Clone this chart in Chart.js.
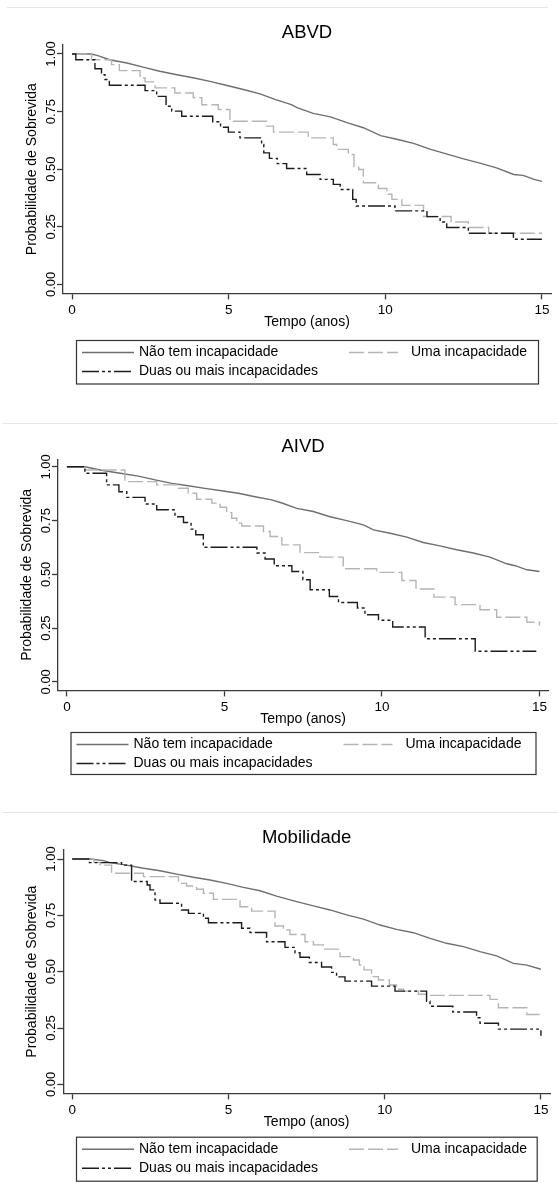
<!DOCTYPE html>
<html>
<head>
<meta charset="utf-8">
<script src="https://cdn.jsdelivr.net/npm/chart.js@4/dist/chart.umd.min.js"></script>
<style>
html, body { margin: 0; padding: 0; background: #fff; }
body { width: 558px; height: 1194px; position: relative; overflow: hidden; }
.panel { position: absolute; left: 0; width: 558px; }
.panel canvas { display: block; }
.sep { position: absolute; height: 1px; background: #e3e7e7; }
</style>
</head>
<body>
<div class="sep" style="top:7px;left:7px;width:541px"></div>
<div class="sep" style="top:423px;left:3px;width:555px"></div>
<div class="sep" style="top:812px;left:3px;width:555px"></div>
<div class="panel" style="top:0;height:400px"><canvas id="abvd" width="558" height="400"></canvas></div>
<div class="panel" style="top:400px;height:390px"><canvas id="aivd" width="558" height="390"></canvas></div>
<div class="panel" style="top:790px;height:404px"><canvas id="mob" width="558" height="404"></canvas></div>
<script>
// groups and axis ticks
const groupLabels = ['Não tem incapacidade', 'Uma incapacidade', 'Duas ou mais incapacidades'];
const xTicks = [0, 5, 10, 15];
const yTicks = [0, 0.25, 0.5, 0.75, 1];
const yTickLabels = ['0.00', '0.25', '0.50', '0.75', '1.00'];

// ABVD - survival estimates (time in years)
const abvdNaoT = [0, 0.6, 0.8, 1.2, 1.75, 2.3, 2.8, 3.35, 3.9, 4.4, 4.95, 5.5, 6.0, 6.5, 7.0, 7.2, 7.7, 8.25, 8.8, 9.3, 9.85, 10.4, 10.9, 11.45, 12.0, 12.5, 13.05, 13.55, 14.1, 14.4, 14.75, 15];
const abvdNaoS = [1, 1, 0.994, 0.975, 0.961, 0.942, 0.925, 0.91, 0.896, 0.881, 0.863, 0.845, 0.827, 0.802, 0.78, 0.766, 0.742, 0.727, 0.701, 0.68, 0.646, 0.629, 0.612, 0.586, 0.564, 0.545, 0.525, 0.506, 0.477, 0.473, 0.456, 0.447];
const abvdUmaT = [0, 0.62, 1.26, 1.51, 2.17, 2.33, 2.65, 3.28, 3.87, 4.14, 4.67, 5.04, 6.21, 6.43, 7.54, 8.34, 8.45, 8.82, 9.0, 9.15, 9.3, 9.78, 10.05, 10.21, 10.53, 11.22, 12.1, 12.65, 13.3, 15];
const abvdUmaS = [1, 0.975, 0.954, 0.928, 0.896, 0.879, 0.853, 0.831, 0.81, 0.78, 0.759, 0.708, 0.687, 0.661, 0.636, 0.607, 0.586, 0.564, 0.513, 0.499, 0.441, 0.416, 0.391, 0.369, 0.343, 0.295, 0.271, 0.247, 0.222, 0.222];
const abvdDuasT = [0, 0.12, 0.73, 0.94, 1.05, 1.19, 2.33, 2.7, 3.0, 3.18, 3.5, 4.49, 4.74, 4.99, 5.36, 6.05, 6.12, 6.3, 6.55, 6.85, 7.49, 7.92, 8.34, 8.56, 8.96, 9.07, 10.31, 11.33, 11.75, 11.96, 12.65, 14.09, 15];
const abvdDuasS = [1, 0.975, 0.936, 0.91, 0.889, 0.864, 0.841, 0.816, 0.773, 0.752, 0.73, 0.706, 0.682, 0.661, 0.636, 0.607, 0.571, 0.547, 0.524, 0.503, 0.477, 0.456, 0.434, 0.412, 0.369, 0.34, 0.319, 0.294, 0.271, 0.247, 0.222, 0.196, 0.196];

// AIVD
const aivdNaoT = [0, 0.57, 1.1, 1.74, 2.27, 2.8, 3.33, 3.85, 4.38, 4.91, 5.44, 5.97, 6.5, 6.8, 7.3, 7.82, 8.35, 8.88, 9.41, 9.73, 10.26, 10.79, 11.31, 11.84, 12.37, 12.9, 13.43, 13.96, 14.23, 14.6, 15];
const aivdNaoS = [1, 1, 0.984, 0.969, 0.957, 0.939, 0.923, 0.912, 0.9, 0.889, 0.877, 0.861, 0.846, 0.833, 0.807, 0.792, 0.768, 0.75, 0.73, 0.707, 0.691, 0.673, 0.648, 0.632, 0.614, 0.599, 0.58, 0.549, 0.54, 0.521, 0.513];
const aivdUmaT = [0, 0.58, 1.84, 2.85, 3.54, 3.85, 4.12, 4.6, 4.86, 5.07, 5.23, 5.39, 5.55, 6.24, 6.45, 6.82, 7.4, 8.03, 8.77, 9.83, 10.63, 11.08, 11.65, 12.32, 13.11, 13.64, 14.6, 15];
const aivdUmaS = [1, 0.985, 0.931, 0.916, 0.9, 0.877, 0.849, 0.831, 0.812, 0.787, 0.761, 0.738, 0.725, 0.699, 0.676, 0.637, 0.601, 0.58, 0.526, 0.509, 0.471, 0.432, 0.394, 0.359, 0.335, 0.3, 0.277, 0.261];
const aivdDuasT = [0, 0.57, 1.26, 1.65, 1.9, 2.48, 2.85, 3.43, 3.7, 3.94, 4.09, 4.33, 6.03, 6.29, 6.58, 7.14, 7.49, 7.72, 8.33, 8.62, 9.22, 9.46, 9.89, 10.34, 11.37, 12.96, 14.9];
const aivdDuasS = [1, 0.97, 0.916, 0.884, 0.858, 0.827, 0.8, 0.768, 0.741, 0.71, 0.684, 0.626, 0.599, 0.571, 0.54, 0.513, 0.475, 0.428, 0.397, 0.369, 0.343, 0.312, 0.286, 0.255, 0.2, 0.142, 0.142];

// Mobilidade
const mobNaoT = [0, 0.57, 1.0, 1.21, 1.74, 2.28, 2.81, 3.34, 3.88, 4.41, 4.94, 5.48, 6.01, 6.54, 7.18, 7.72, 8.25, 8.78, 9.32, 9.85, 10.38, 10.92, 11.45, 11.98, 12.52, 13.05, 13.58, 14.12, 14.55, 15];
const mobNaoS = [1, 1, 0.993, 0.984, 0.973, 0.959, 0.948, 0.933, 0.919, 0.907, 0.892, 0.874, 0.859, 0.835, 0.811, 0.792, 0.774, 0.752, 0.733, 0.707, 0.688, 0.673, 0.648, 0.626, 0.611, 0.589, 0.57, 0.537, 0.529, 0.511];
const mobUmaT = [0, 0.7, 0.89, 1.26, 2.28, 3.4, 3.66, 3.98, 4.2, 4.52, 5.37, 5.74, 6.49, 6.76, 6.97, 7.45, 7.72, 8.04, 8.57, 9.0, 9.19, 9.34, 9.58, 9.8, 10.15, 10.38, 10.6, 11.08, 11.34, 13.37, 13.64, 14.55, 15];
const mobUmaS = [1, 0.985, 0.973, 0.937, 0.922, 0.892, 0.88, 0.866, 0.848, 0.821, 0.788, 0.769, 0.703, 0.685, 0.665, 0.633, 0.619, 0.6, 0.567, 0.552, 0.53, 0.508, 0.478, 0.463, 0.441, 0.422, 0.414, 0.4, 0.395, 0.377, 0.34, 0.31, 0.31];
const mobDuasT = [0, 0.55, 1.58, 1.9, 2.4, 2.49, 2.65, 2.81, 3.5, 3.72, 4.2, 4.36, 5.42, 5.69, 6.22, 6.81, 7.13, 7.29, 7.59, 7.98, 8.3, 8.46, 8.73, 9.58, 10.33, 11.34, 11.45, 12.18, 12.94, 13.05, 13.64, 15];
const mobDuasS = [1, 0.984, 0.973, 0.9, 0.885, 0.863, 0.818, 0.804, 0.774, 0.759, 0.737, 0.717, 0.693, 0.674, 0.633, 0.608, 0.584, 0.564, 0.541, 0.521, 0.497, 0.477, 0.458, 0.436, 0.414, 0.369, 0.347, 0.321, 0.296, 0.271, 0.245, 0.216];

const FONT = '"Liberation Sans", Arial, Helvetica, sans-serif';
const AXIS = '#3a3a3a';

const lineStyles = [
  { color: '#6f6f6f', dash: [], stepped: false, order: 3 },
  { color: '#b5b5b5', dash: [15, 4], stepped: 'before', order: 2 },
  { color: '#1c1c1c', dash: [17, 3, 3, 3, 3, 3], stepped: 'before', order: 1 }
];

function pts(t, s) {
  return t.map((v, i) => ({ x: v, y: s[i] }));
}

// title, rotated y labels, x title and the boxed legend
const kmDecor = {
  id: 'kmDecor',
  afterDraw(chart, args, o) {
    const ctx = chart.ctx;
    const a = chart.chartArea;
    const ys = chart.scales.y;
    const cx = (a.left + a.right) / 2;
    ctx.save();
    ctx.fillStyle = '#000';
    ctx.textAlign = 'center';
    ctx.textBaseline = 'middle';

    ctx.font = '18.5px ' + FONT;
    ctx.fillText(o.title, cx, a.top - 12);

    ctx.font = '14px ' + FONT;
    ctx.fillText('Tempo (anos)', cx, a.bottom + 29);

    ctx.font = '13px ' + FONT;
    yTicks.forEach((v, i) => {
      ctx.save();
      ctx.translate(a.left - 12, ys.getPixelForValue(v));
      ctx.rotate(-Math.PI / 2);
      ctx.fillText(yTickLabels[i], 0, 0);
      ctx.restore();
    });

    ctx.save();
    ctx.translate(a.left - 31, (a.top + a.bottom) / 2);
    ctx.rotate(-Math.PI / 2);
    ctx.font = '14px ' + FONT;
    ctx.fillText('Probabilidade de Sobrevida', 0, 0);
    ctx.restore();

    // legend box
    const L = o.legend;
    ctx.strokeStyle = '#333';
    ctx.lineWidth = 1.2;
    ctx.strokeRect(L.left + 0.5, L.top + 0.5, L.right - L.left, L.bottom - L.top);
    const slots = [
      { x0: 6, x1: 58, tx: 63, row: 0 },
      { x0: 273, x1: 322, tx: 335, row: 0 },
      { x0: 6, x1: 58, tx: 63, row: 1 }
    ];
    ctx.font = '14px ' + FONT;
    ctx.textAlign = 'left';
    chart.data.datasets.forEach((ds, i) => {
      const s = slots[i];
      const y = L.top + (s.row === 0 ? 12.5 : 31.5);
      ctx.save();
      ctx.strokeStyle = ds.borderColor;
      ctx.lineWidth = ds.borderWidth;
      ctx.setLineDash(ds.borderDash);
      ctx.beginPath();
      ctx.moveTo(L.left + s.x0, y);
      ctx.lineTo(L.left + s.x1, y);
      ctx.stroke();
      ctx.restore();
      ctx.fillText(ds.label, L.left + s.tx, y);
    });
    ctx.restore();
  }
};

function makeChart(id, series, lay) {
  const datasets = series.map((d, i) => ({
    label: groupLabels[i],
    data: d,
    borderColor: lineStyles[i].color,
    borderDash: lineStyles[i].dash,
    borderWidth: 1.4,
    stepped: lineStyles[i].stepped,
    order: lineStyles[i].order,
    pointRadius: 0,
    fill: false,
    tension: 0
  }));
  const gridOpts = { drawOnChartArea: false, drawTicks: true, tickLength: 6, tickColor: AXIS, tickWidth: 1.3 };
  return new Chart(document.getElementById(id), {
    type: 'line',
    data: { datasets },
    options: {
      responsive: false,
      animation: false,
      layout: {
        padding: { left: lay.axisX - 6, right: 558 - lay.axisRight, top: lay.axisTop, bottom: lay.h - lay.axisY - 27.6 }
      },
      scales: {
        x: {
          type: 'linear',
          min: lay.xmin,
          max: lay.xmax,
          afterBuildTicks: s => { s.ticks = xTicks.map(v => ({ value: v })); },
          ticks: { color: '#000', font: { family: FONT, size: 13.5 }, padding: 3, maxRotation: 0, autoSkip: false, callback: v => String(v) },
          grid: gridOpts,
          border: { color: AXIS, width: 1.3 }
        },
        y: {
          type: 'linear',
          min: lay.ymin,
          max: lay.ymax,
          afterBuildTicks: s => { s.ticks = yTicks.map(v => ({ value: v })); },
          ticks: { display: false },
          grid: gridOpts,
          border: { color: AXIS, width: 1.3 }
        }
      },
      plugins: {
        legend: { display: false },
        tooltip: { enabled: false },
        kmDecor: { title: lay.title, legend: lay.legend }
      }
    },
    plugins: [kmDecor]
  });
}

makeChart('abvd',
  [pts(abvdNaoT, abvdNaoS), pts(abvdUmaT, abvdUmaS), pts(abvdDuasT, abvdDuasS)],
  { title: 'ABVD', h: 400, axisX: 63, axisRight: 551, axisTop: 45, axisY: 294,
    xmin: -0.29, xmax: 15.29, ymin: -0.039, ymax: 1.039,
    legend: { left: 76, top: 340, right: 538, bottom: 383.5 } });

makeChart('aivd',
  [pts(aivdNaoT, aivdNaoS), pts(aivdUmaT, aivdUmaS), pts(aivdDuasT, aivdDuasS)],
  { title: 'AIVD', h: 390, axisX: 58, axisRight: 548, axisTop: 59.3, axisY: 291,
    xmin: -0.283, xmax: 15.27, ymin: -0.04, ymax: 1.035,
    legend: { left: 70.5, top: 332, right: 535.5, bottom: 374 } });

makeChart('mob',
  [pts(mobNaoT, mobNaoS), pts(mobUmaT, mobUmaS), pts(mobDuasT, mobDuasS)],
  { title: 'Mobilidade', h: 404, axisX: 63.3, axisRight: 550, axisTop: 60, axisY: 304,
    xmin: -0.285, xmax: 15.29, ymin: -0.04, ymax: 1.04,
    legend: { left: 76, top: 346.7, right: 536.7, bottom: 390.7 } });
</script>
</body>
</html>
